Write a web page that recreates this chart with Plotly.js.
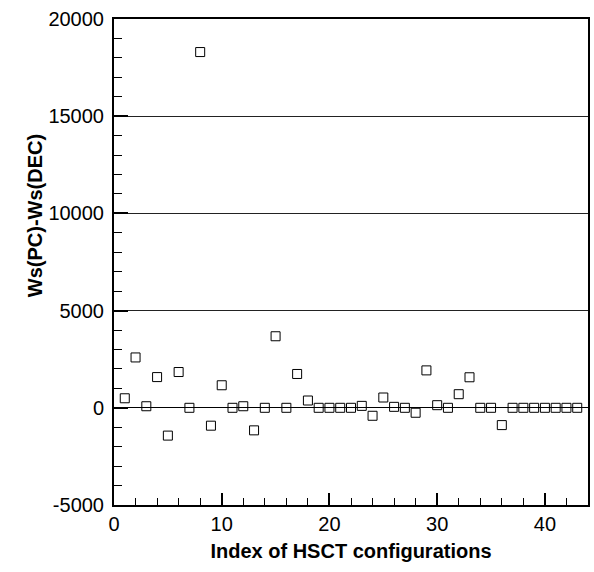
<!DOCTYPE html>
<html>
<head>
<meta charset="utf-8">
<script src="https://cdn.plot.ly/plotly-3.0.1.min.js"></script>
<style>html,body{margin:0;padding:0;background:#fff;}#chart{width:594px;height:572px;}</style>
</head>
<body>
<div id="chart"></div>
<script>
const configIndex = [1,2,3,4,5,6,7,8,9,10,11,12,13,14,15,16,17,18,19,20,21,22,23,24,25,26,27,28,29,30,31,32,33,34,35,36,37,38,39,40,41,42,43];
const wsDiff = [490,2590,80,1580,-1430,1840,0,18300,-920,1160,0,80,-1160,0,3680,0,1740,375,0,0,0,0,100,-410,530,50,0,-255,1925,135,0,700,1570,0,0,-890,0,0,0,0,0,0,0];
const yTickVals = [-5000, 0, 5000, 10000, 15000, 20000];
const yTickText = ['-5000', '0', '5000', '10000', '15000', '20000'];
const xTickVals = [0, 10, 20, 30, 40];
const xTickText = ['0', '10', '20', '30', '40'];

const xTitle = 'Index of HSCT configurations';
const yTitle = 'Ws(PC)-Ws(DEC)';
const font = 'Liberation Sans, Arial, sans-serif';

const trace = {
  x: configIndex, y: wsDiff, type: 'scatter', mode: 'markers',
  marker: {symbol: 'square-open', size: 9, color: '#000', line: {width: 1, color: '#000'}},
  hoverinfo: 'x+y'
};

const layout = {
  width: 594, height: 572,
  margin: {l: 114, r: 6, t: 19, b: 67},
  paper_bgcolor: '#fff', plot_bgcolor: '#fff',
  showlegend: false,
  font: {family: font, color: '#000', size: 20},
  xaxis: {
    range: [0, 44], tickmode: 'array', tickvals: xTickVals, ticktext: xTickText,
    ticks: 'inside', ticklen: 12, tickwidth: 2, tickcolor: '#000',
    minor: {dtick: 2, tick0: 0, ticks: 'inside', ticklen: 7, tickwidth: 1, tickcolor: '#000'},
    showline: true, linecolor: '#000', linewidth: 2, mirror: true,
    showgrid: false, zeroline: false,
    tickfont: {family: font, size: 20, color: '#000'},
    ticklabelstandoff: 0,
    title: {text: '<b>' + xTitle + '</b>', font: {family: font, size: 20, color: '#000'}, standoff: 10}
  },
  yaxis: {
    range: [-5000, 20000], tickmode: 'array', tickvals: yTickVals, ticktext: yTickText,
    ticks: 'inside', ticklen: 14, tickwidth: 2, tickcolor: '#000',
    minor: {dtick: 1000, tick0: 0, ticks: 'inside', ticklen: 8, tickwidth: 1, tickcolor: '#000', showgrid: false},
    showline: true, linecolor: '#000', linewidth: 2, mirror: true,
    showgrid: true, gridcolor: '#222', gridwidth: 1,
    zeroline: true, zerolinecolor: '#000', zerolinewidth: 1,
    tickfont: {family: font, size: 20, color: '#000'},
    ticklabelstandoff: 4
  },
  annotations: [{
    text: '<b>' + yTitle + '</b>', textangle: -90,
    xref: 'paper', yref: 'paper', x: -0.168, y: 0.595,
    xanchor: 'center', yanchor: 'middle', showarrow: false,
    font: {family: font, size: 20, color: '#000'}
  }]
};

Plotly.newPlot('chart', [trace], layout, {displayModeBar: false, staticPlot: true});
</script>
</body>
</html>
